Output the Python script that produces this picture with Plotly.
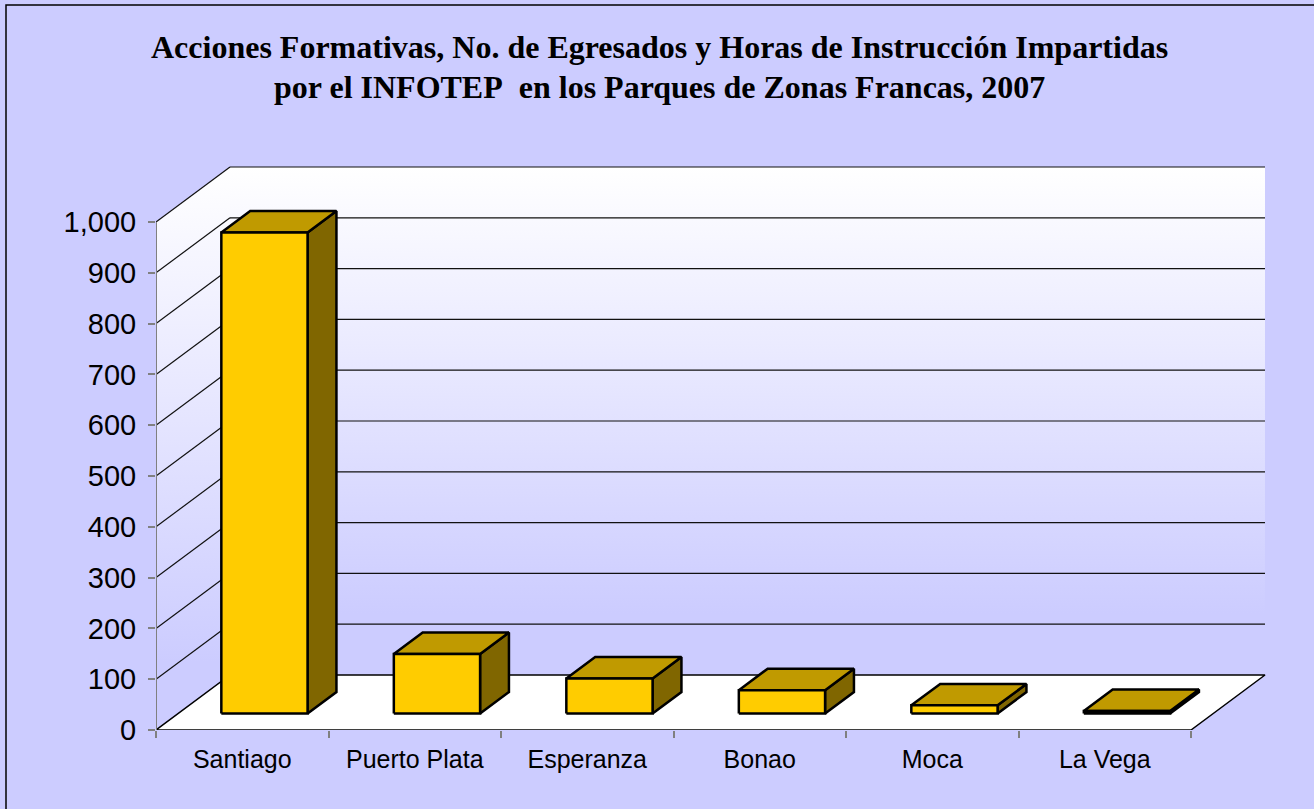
import plotly.graph_objects as go

# ---------------- data ----------------
categories = ["Santiago", "Puerto Plata", "Esperanza", "Bonao", "Moca", "La Vega"]
values = [947, 117, 69, 46, 16, 5]
y_ticks = [0, 100, 200, 300, 400, 500, 600, 700, 800, 900, 1000]
y_tick_labels = ["0", "100", "200", "300", "400", "500", "600", "700", "800", "900", "1,000"]
title_line1 = "Acciones Formativas, No. de Egresados y Horas de Instrucción Impartidas"
title_line2 = "por el INFOTEP\u00a0 en los Parques de Zonas Francas, 2007"

# ---------------- geometry / style ----------------
W, H = 1314, 809
PX_LEFT, PX_RIGHT, PX_TOP, PX_BOTTOM = 156, 1266, 166, 730
CAT_PX = 172.5          # pixels per category
UNIT_PX = 0.508         # pixels per value unit
DX = 74 / CAT_PX        # depth offset in x units
DY = 55 / UNIT_PX       # depth offset in y units
BAR_W = 0.5
BAR_Z0 = 0.30           # depth fraction where bars start
BAR_ZD = 0.39           # depth fraction of bars
YMAX = max(y_ticks)

FRONT = "#FFCC00"
TOP = "#C09A00"
SIDE = "#806600"
BG = "#CCCCFF"
SANS = "Liberation Sans, Arial, sans-serif"
SERIF = "Liberation Serif, Times New Roman, serif"

x_range = [-0.5, -0.5 + (PX_RIGHT - PX_LEFT) / CAT_PX]
y_range = [0, (PX_BOTTOM - PX_TOP) / UNIT_PX]
n = len(categories)
xl, xr = -0.5, n - 0.5

fig = go.Figure()

grad = dict(type="vertical", colorscale=[[0, BG], [0.12, BG], [1, "#FFFFFF"]])

# side wall
fig.add_trace(go.Scatter(
    x=[xl, xl + DX, xl + DX, xl, xl], y=[0, DY, YMAX + DY, YMAX, 0],
    fill="toself", fillgradient=grad, line=dict(width=0), mode="lines",
    hoverinfo="skip", showlegend=False))
# back wall
fig.add_trace(go.Scatter(
    x=[xl + DX, xr + DX, xr + DX, xl + DX, xl + DX], y=[DY, DY, YMAX + DY, YMAX + DY, DY],
    fill="toself", fillgradient=grad, line=dict(width=0), mode="lines",
    hoverinfo="skip", showlegend=False))

# gridlines (back wall + side wall)
gx, gy = [], []
for v in y_ticks:
    if v == 0:
        continue
    gx += [xl + DX, xr + DX, None, xl, xl + DX, None]
    gy += [v + DY, v + DY, None, v, v + DY, None]
fig.add_trace(go.Scatter(x=gx, y=gy, mode="lines", line=dict(color="#111111", width=1.2),
                         hoverinfo="skip", showlegend=False))

# floor
fig.add_trace(go.Scatter(
    x=[xl, xr, xr + DX, xl + DX, xl], y=[0, 0, DY, DY, 0],
    fill="toself", fillcolor="#FFFFFF", mode="lines", line=dict(color="#000000", width=1.5),
    hoverinfo="skip", showlegend=False))

# y axis line
fig.add_trace(go.Scatter(x=[xl, xl], y=[0, YMAX], mode="lines",
                         line=dict(color="#808080", width=2), hoverinfo="skip", showlegend=False))

# bars
base = BAR_Z0 * DY
ddx = BAR_ZD * DX
ddy = BAR_ZD * DY
for i, v in enumerate(values):
    x0 = i - BAR_W / 2 + BAR_Z0 * DX
    x1 = x0 + BAR_W
    yt = base + v
    # side
    fig.add_trace(go.Scatter(
        x=[x1, x1 + ddx, x1 + ddx, x1, x1], y=[base, base + ddy, yt + ddy, yt, base],
        fill="toself", fillcolor=SIDE, mode="lines", line=dict(color="#000000", width=2.5),
        hoverinfo="skip", showlegend=False))
    # top
    fig.add_trace(go.Scatter(
        x=[x0, x1, x1 + ddx, x0 + ddx, x0], y=[yt, yt, yt + ddy, yt + ddy, yt],
        fill="toself", fillcolor=TOP, mode="lines", line=dict(color="#000000", width=2.5),
        hoverinfo="skip", showlegend=False))
    # front
    fig.add_trace(go.Scatter(
        x=[x0, x1, x1, x0, x0], y=[base, base, yt, yt, base],
        fill="toself", fillcolor=FRONT, mode="lines", line=dict(color="#000000", width=2.5),
        name=categories[i], hovertemplate="%{fullData.name}: " + str(v) + "<extra></extra>",
        showlegend=False))

pw = PX_RIGHT - PX_LEFT
ph = PX_BOTTOM - PX_TOP


def px_to_paper_x(px):
    return (px - PX_LEFT) / pw


def px_to_paper_y(py):
    return (PX_BOTTOM - py) / ph


fig.update_layout(
    width=W, height=H,
    margin=dict(l=PX_LEFT, r=W - PX_RIGHT, t=PX_TOP, b=H - PX_BOTTOM),
    paper_bgcolor=BG, plot_bgcolor="rgba(0,0,0,0)",
    showlegend=False,
    xaxis=dict(range=x_range, showgrid=False, zeroline=False, showline=False,
               tickmode="array", tickvals=list(range(n)), ticktext=categories,
               ticks="", tickfont=dict(family=SANS, size=25, color="#000000"),
               ticklabelstandoff=12,
               minor=dict(tickmode="array", tickvals=[i - 0.5 for i in range(n + 1)],
                          ticks="outside", ticklen=7, tickcolor="#808080", tickwidth=1.5,
                          showgrid=False)),
    yaxis=dict(range=y_range, showgrid=False, zeroline=False, showline=False,
               tickmode="array", tickvals=y_ticks, ticktext=y_tick_labels,
               ticks="outside", ticklen=7, tickcolor="#808080", tickwidth=1.5,
               tickfont=dict(family=SANS, size=29, color="#000000"),
               ticklabelstandoff=6),
    annotations=[
        dict(text="<b>" + title_line1 + "</b>", xref="paper", yref="paper",
             x=px_to_paper_x(659), y=px_to_paper_y(47), xanchor="center", yanchor="middle",
             showarrow=False, font=dict(family=SERIF, size=32, color="#000000")),
        dict(text="<b>" + title_line2 + "</b>", xref="paper", yref="paper",
             x=px_to_paper_x(659), y=px_to_paper_y(87), xanchor="center", yanchor="middle",
             showarrow=False, font=dict(family=SERIF, size=32, color="#000000")),
    ],
    shapes=[
        dict(type="rect", xref="paper", yref="paper",
             x0=px_to_paper_x(6), x1=px_to_paper_x(1330),
             y0=px_to_paper_y(830), y1=px_to_paper_y(5),
             line=dict(color="#000000", width=1.5), fillcolor="rgba(0,0,0,0)", layer="below"),
    ],
)

fig.write_html(
    "out.html",
    config={"displayModeBar": False},
    post_script="document.body.style.margin='0';document.body.style.padding='0';",
)
